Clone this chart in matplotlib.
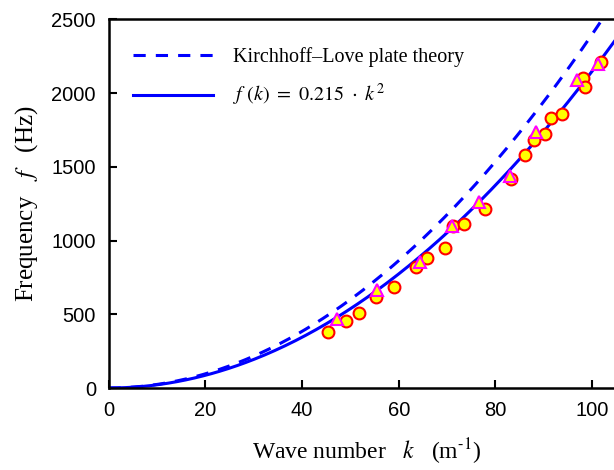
import numpy as np
import matplotlib.pyplot as plt

plt.rcParams['mathtext.fontset'] = 'stix'

k_circ = [45.4, 49.1, 51.8, 55.3, 59.0, 63.6, 65.9, 69.6, 71.2, 73.4, 77.9,
          83.2, 86.2, 87.9, 90.3, 91.5, 93.8, 98.1, 98.6, 101.9]
f_circ = [382, 457, 509, 620, 688, 824, 881, 949, 1096, 1114, 1216,
          1418, 1583, 1685, 1723, 1832, 1861, 2104, 2043, 2210]
k_tri = [47.2, 55.5, 64.5, 71.0, 76.5, 83.0, 88.4, 96.8, 101.1]
f_tri = [469, 666, 858, 1096, 1261, 1436, 1737, 2092, 2201]

c_fit = 0.215
c_kl = 0.24

k = np.linspace(0, 106, 300)

fig = plt.figure(figsize=(6.14, 4.7), dpi=100)
ax = fig.add_axes([108.5 / 614, 82 / 470, (625 - 108.5) / 614, 368.5 / 470])

ax.plot(k, c_kl * k**2, color='#0000ff', lw=2.2, dashes=(4, 3.3),
        label='Kirchhoff–Love plate theory')
ax.plot(k, c_fit * k**2, color='#0000ff', lw=2.2,
        label=r'$f\ (k)\ =\ 0.215\ \cdot\ k^2$')
ax.plot(k_circ, f_circ, 'o', ms=8.5, mfc='yellow', mec='red', mew=1.5)
ax.plot(k_tri, f_tri, '^', ms=8, mfc='yellow', mec='magenta', mew=1.5)

ax.set_xlim(0, (625 - 108.5) / 4.837)
ax.set_ylim(0, 2500)
ax.set_xticks(range(0, 101, 20))
ax.set_yticks(range(0, 2501, 500))
ax.tick_params(direction='in', length=6, width=1.5, labelsize=14.5, pad=9,
               top=False, right=False)
for lab in ax.get_xticklabels() + ax.get_yticklabels():
    lab.set_family('Liberation Sans')
for s in ax.spines.values():
    s.set_linewidth(1.8)

ax.set_xlabel(r'Wave number   $k$   (m$^{\text{-1}}$)', family='Liberation Serif',
              fontsize=17, labelpad=12)
ax.set_ylabel(r'Frequency   $f$   (Hz)', family='Liberation Serif', fontsize=18,
              labelpad=8)

ax.legend(loc='upper left', frameon=False, prop={'family': 'Liberation Serif', 'size': 14.5},
          handlelength=4.0, handletextpad=1.0, labelspacing=0.75,
          bbox_to_anchor=(0.0, 0.99), borderaxespad=0.8)

fig.savefig('out.png', dpi=100)
